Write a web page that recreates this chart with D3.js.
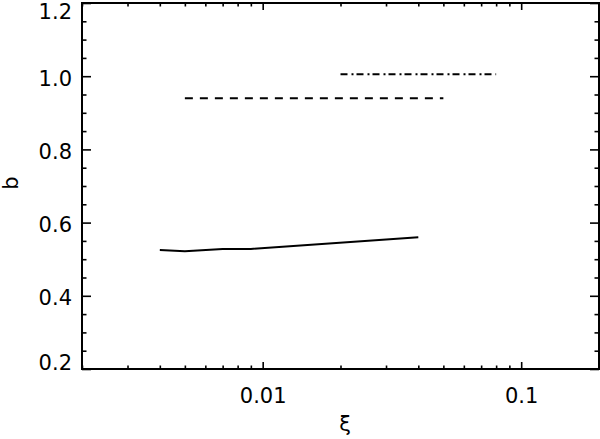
<!DOCTYPE html>
<html>
<head>
<meta charset="utf-8">
<script src="https://cdn.jsdelivr.net/npm/d3@7"></script>
<style>
  body { margin: 0; background: #fff; }
  text { font-family: "DejaVu Sans", sans-serif; fill: #000; }
</style>
</head>
<body>
<div id="graph"></div>
<script>
var svgWidth = 600;
var svgHeight = 439;

// data
var solidXi = [0.004, 0.005, 0.007, 0.009, 0.04];
var solidB = [0.525, 0.522, 0.528, 0.528, 0.56];
var dashXi = [0.005, 0.05];
var dashB = [0.94, 0.94];
var dashDotXi = [0.02, 0.08];
var dashDotB = [1.005, 1.005];

var xMajor = [0.01, 0.1];
var xMinor = [0.002, 0.003, 0.004, 0.005, 0.006, 0.007, 0.008, 0.009,
              0.02, 0.03, 0.04, 0.05, 0.06, 0.07, 0.08, 0.09, 0.2];
var yMajor = [0.2, 0.4, 0.6, 0.8, 1.0, 1.2];
var yMinor = d3.range(0.25, 1.2, 0.05).filter(v => Math.abs(v * 5 - Math.round(v * 5)) > 1e-6);

var margin = { top: 3, right: 1, bottom: 70, left: 82 };
var width = svgWidth - margin.left - margin.right;
var height = svgHeight - margin.top - margin.bottom;

var svg = d3.select("#graph")
  .append("svg")
  .attr("width", svgWidth)
  .attr("height", svgHeight);

var chartGroup = svg.append("g")
  .attr("transform", `translate(${margin.left}, ${margin.top})`);

var xLogScale = d3.scaleLog().domain([0.002, 0.2]).range([0, width]);
var yLinearScale = d3.scaleLinear().domain([0.2, 1.2]).range([height, 0]);

// ticks, all pointing inward
function tickAxis(axis, size, values, fmt, pad) {
  return axis.tickValues(values).tickSizeInner(-size).tickSizeOuter(0)
    .tickPadding(pad).tickFormat(fmt);
}

chartGroup.append("g").attr("transform", `translate(0, ${height})`)
  .call(tickAxis(d3.axisBottom(xLogScale), 7, xMajor, d3.format("~g"), 19));
chartGroup.append("g").attr("transform", `translate(0, ${height})`)
  .call(tickAxis(d3.axisBottom(xLogScale), 3.5, xMinor, "", 0));
chartGroup.append("g")
  .call(tickAxis(d3.axisTop(xLogScale), 7, xMajor, "", 0));
chartGroup.append("g")
  .call(tickAxis(d3.axisTop(xLogScale), 3.5, xMinor, "", 0));

var leftMajor = chartGroup.append("g")
  .call(tickAxis(d3.axisLeft(yLinearScale), 9, yMajor, d3.format(".1f"), 10));
chartGroup.append("g")
  .call(tickAxis(d3.axisLeft(yLinearScale), 4.5, yMinor, "", 0));
chartGroup.append("g").attr("transform", `translate(${width}, 0)`)
  .call(tickAxis(d3.axisRight(yLinearScale), 9, yMajor, "", 0));
chartGroup.append("g").attr("transform", `translate(${width}, 0)`)
  .call(tickAxis(d3.axisRight(yLinearScale), 4.5, yMinor, "", 0));

chartGroup.selectAll(".domain").remove();
chartGroup.selectAll(".tick line").attr("stroke", "#000").attr("stroke-width", 1.6);
chartGroup.selectAll(".tick text").attr("font-size", "21px")
  .attr("font-family", "DejaVu Sans, sans-serif");

// keep end labels inside the frame like the original
leftMajor.selectAll(".tick text")
  .attr("dy", d => d > 1.1 ? "0.72em" : d < 0.3 ? "0.04em" : "0.42em");

// frame
chartGroup.append("rect")
  .attr("width", width)
  .attr("height", height)
  .attr("fill", "none")
  .attr("stroke", "#000")
  .attr("stroke-width", 2);

var line = d3.line()
  .x(d => xLogScale(d[0]))
  .y(d => yLinearScale(d[1]));

chartGroup.append("path")
  .datum(d3.zip(solidXi, solidB))
  .attr("d", line)
  .attr("fill", "none")
  .attr("stroke", "#000")
  .attr("stroke-width", 2);

chartGroup.append("path")
  .datum(d3.zip(dashXi, dashB))
  .attr("d", line)
  .attr("fill", "none")
  .attr("stroke", "#000")
  .attr("stroke-width", 2)
  .attr("stroke-dasharray", "8,7");

chartGroup.append("path")
  .datum(d3.zip(dashDotXi, dashDotB))
  .attr("d", line)
  .attr("fill", "none")
  .attr("stroke", "#000")
  .attr("stroke-width", 2)
  .attr("stroke-dasharray", "7,4,2,3");

// axis titles
chartGroup.append("text")
  .attr("text-anchor", "middle")
  .attr("x", 263)
  .attr("y", height + 62)
  .attr("font-size", "21px")
  .text("ξ");

chartGroup.append("text")
  .attr("text-anchor", "middle")
  .attr("transform", `translate(${-64}, ${180}) rotate(-90)`)
  .attr("font-size", "21px")
  .text("b");
</script>
</body>
</html>
